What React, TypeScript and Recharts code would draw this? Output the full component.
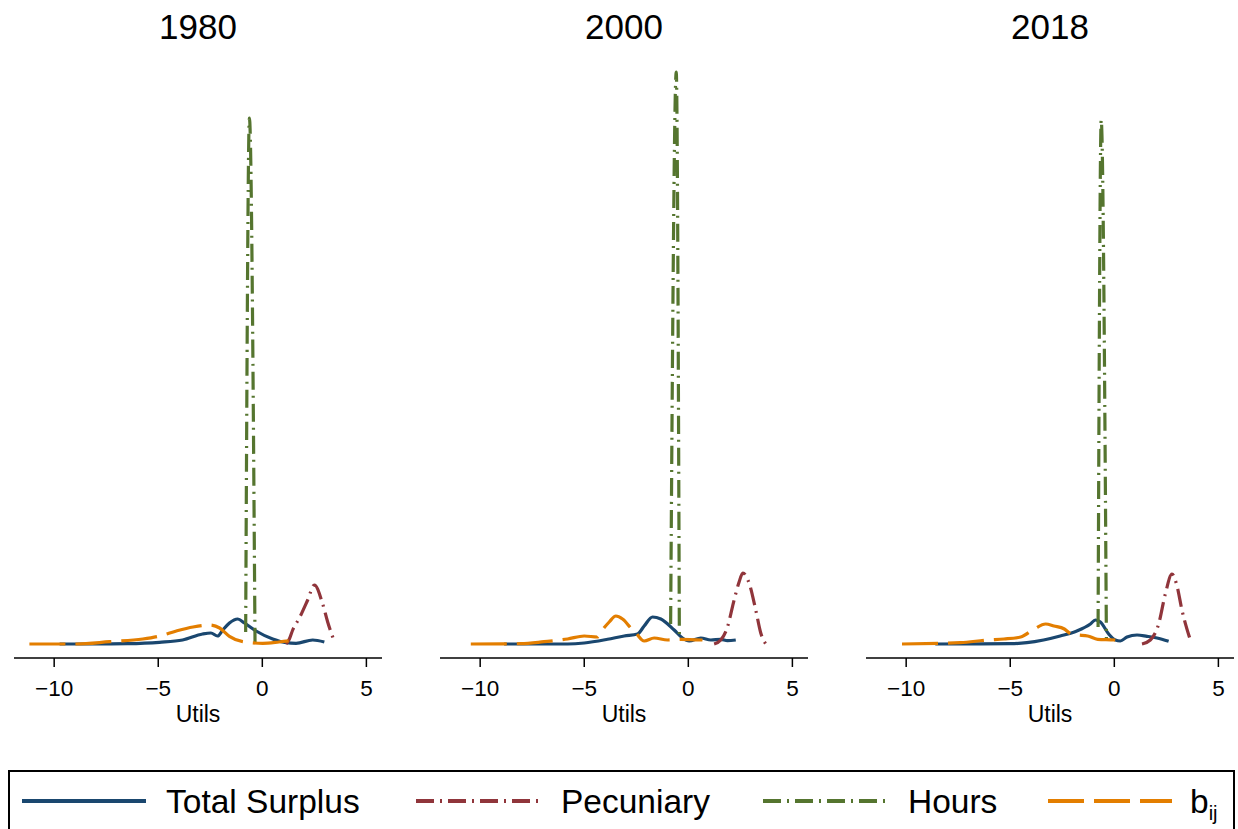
import { Line, LineChart, XAxis, YAxis } from "recharts";

type Pt = [number, number];

const years = ["1980", "2000", "2018"];
const xTicks = [-10, -5, 0, 5];

// kernel densities (x = utils, y = density)
const surplus1980: Pt[] = [
  [-9.74, 0], [-8, 0], [-6.5, 0.003], [-4.94, 0.017], [-3.83, 0.04], [-2.87, 0.1], [-2.47, 0.11],
  [-2.15, 0.08], [-1.9, 0.14], [-1.58, 0.21], [-1.18, 0.25], [-0.86, 0.21], [-0.3, 0.13], [0.5, 0.05],
  [1.14, 0.013], [1.62, 0.007], [2.42, 0.04], [2.98, 0.02]
];
const pecuniary1980: Pt[] = [
  [1.14, 0], [1.3, 0.05], [1.46, 0.14], [1.78, 0.26], [2.18, 0.44], [2.5, 0.59], [2.9, 0.4], [3.14, 0.22], [3.45, 0.03]
];
const hours1980: Pt[] = [[-0.8, 0.12], [-0.62, 5.26], [-0.35, 0]];
const bij1980: Pt[] = [
  [-11.19, 0], [-8.94, 0], [-7.34, 0.023], [-5.74, 0.05], [-4.94, 0.08], [-4.13, 0.13], [-3.33, 0.17],
  [-2.53, 0.19], [-2.05, 0.16], [-1.58, 0.077], [-0.94, 0.023], [0.02, 0.007], [0.8, 0.02], [1.62, 0.04]
];

const surplus2000: Pt[] = [
  [-8.85, 0], [-5.8, 0], [-5.0, 0.01], [-3.88, 0.047], [-3.08, 0.08], [-2.44, 0.1], [-2.12, 0.18],
  [-1.72, 0.27], [-1.32, 0.25], [-0.68, 0.14], [-0.28, 0.06], [0.04, 0.03], [0.6, 0.06], [1.08, 0.04],
  [1.56, 0.047], [1.88, 0.033], [2.28, 0.04]
];
const pecuniary2000: Pt[] = [
  [1.24, 0], [1.56, 0.04], [1.88, 0.17], [2.2, 0.44], [2.44, 0.62], [2.62, 0.71], [2.92, 0.61],
  [3.24, 0.34], [3.48, 0.11], [3.72, 0]
];
const hours2000: Pt[] = [[-0.85, 0.2], [-0.58, 5.72], [-0.43, 0.04]];
const bij2000: Pt[] = [
  [-10.45, 0], [-8.05, 0.003], [-6.93, 0.023], [-5.8, 0.05], [-5.0, 0.08], [-4.37, 0.07], [-4.2, 0.12],
  [-3.8, 0.22], [-3.48, 0.28], [-3.16, 0.25], [-2.76, 0.16], [-2.52, 0.11], [-2.12, 0.03], [-1.64, 0.06],
  [-1.0, 0.04], [-0.36, 0.047], [0.68, 0.04]
];

const surplus2018: Pt[] = [
  [-8.6, 0], [-5.0, 0.003], [-4.2, 0.013], [-3.4, 0.04], [-2.6, 0.08], [-1.8, 0.13], [-1.15, 0.2],
  [-0.91, 0.24], [-0.67, 0.22], [-0.27, 0.1], [0.05, 0.04], [0.29, 0.03], [0.61, 0.07], [1.09, 0.09],
  [1.57, 0.077], [2.05, 0.06], [2.61, 0.027]
];
const pecuniary2018: Pt[] = [
  [1.33, 0], [1.73, 0.04], [2.13, 0.2], [2.45, 0.5], [2.77, 0.7], [3.0, 0.59], [3.25, 0.34], [3.65, 0.04]
];
const hours2018: Pt[] = [[-0.78, 0.17], [-0.63, 5.24], [-0.38, 0.05]];
const bij2018: Pt[] = [
  [-10.2, 0], [-7.4, 0.013], [-6.1, 0.04], [-5.3, 0.05], [-4.5, 0.07], [-3.85, 0.15], [-3.3, 0.2],
  [-2.9, 0.18], [-2.4, 0.15], [-2.08, 0.1], [-1.76, 0.09], [-1.28, 0.08], [-0.8, 0.047], [0.0, 0.04],
  [0.29, 0.03]
];

const panels = [
  { surplus: surplus1980, pecuniary: pecuniary1980, hours: hours1980, bij: bij1980 },
  { surplus: surplus2000, pecuniary: pecuniary2000, hours: hours2000, bij: bij2000 },
  { surplus: surplus2018, pecuniary: pecuniary2018, hours: hours2018, bij: bij2018 }
];

const series = [
  { key: "surplus", name: "Total Surplus", stroke: "#1a476f", dash: undefined },
  { key: "pecuniary", name: "Pecuniary", stroke: "#90353b", dash: "18 6 2 6" },
  { key: "hours", name: "Hours", stroke: "#55752f", dash: "18 6 2 6" },
  { key: "bij", name: "b", stroke: "#e37e00", dash: "36 10" }
] as const;

const FONT = "'Liberation Sans', Arial, Helvetica, sans-serif";
const PANEL_W = 426;
const fmt = (v: number) => (v < 0 ? `\u2212${Math.abs(v)}` : `${v}`);
const toRows = (pts: Pt[]) => pts.map(([x, y]) => ({ x, y }));

function Panel({ index }: { index: number }) {
  const data = panels[index];
  return (
    <div style={{ position: "absolute", left: index * PANEL_W, top: 0, width: PANEL_W, height: 740 }}>
      <div
        style={{
          position: "absolute",
          left: 14,
          width: 368,
          top: 9,
          textAlign: "center",
          fontFamily: FONT,
          fontSize: 35,
          lineHeight: "35px"
        }}
      >
        {years[index]}
      </div>
      <LineChart width={PANEL_W} height={740} margin={{ top: 52, right: 44, bottom: 18, left: 14 }}>
        <XAxis
          type="number"
          dataKey="x"
          domain={[-11.93, 5.75]}
          ticks={xTicks}
          allowDataOverflow
          height={64}
          tickSize={9}
          tickMargin={13}
          tickFormatter={fmt}
          axisLine={{ stroke: "#000", strokeWidth: 1.5 }}
          tickLine={{ stroke: "#000", strokeWidth: 1.5 }}
          tick={{ fill: "#000", fontSize: 22.5, fontFamily: FONT }}
          label={{ value: "Utils", position: "insideBottom", offset: 0, fill: "#000", fontSize: 23, fontFamily: FONT }}
        />
        <YAxis
          type="number"
          domain={[-0.14, 5.92]}
          allowDataOverflow
          width={0}
          tick={false}
          tickLine={false}
          axisLine={{ stroke: "#000", strokeWidth: 1.5 }}
        />
        {series.map((s) => (
          <Line
            key={s.key}
            data={toRows(data[s.key])}
            dataKey="y"
            type="monotone"
            stroke={s.stroke}
            strokeWidth={3.2}
            strokeDasharray={s.dash}
            dot={false}
            activeDot={false}
            isAnimationActive={false}
          />
        ))}
      </LineChart>
    </div>
  );
}

const legendItems = [
  { lineX: 22, textX: 166 },
  { lineX: 416, textX: 561 },
  { lineX: 763, textX: 908 },
  { lineX: 1048, textX: 1190 }
];

function LegendBox() {
  return (
    <svg style={{ position: "absolute", left: 0, top: 760 }} width={1238} height={69}>
      <rect x={9} y={11} width={1225} height={70} fill="#fff" stroke="#000" strokeWidth={2} />
      {series.map((s, i) => (
        <g key={s.key}>
          <line
            x1={legendItems[i].lineX}
            x2={legendItems[i].lineX + 124}
            y1={41}
            y2={41}
            stroke={s.stroke}
            strokeWidth={4}
            strokeDasharray={s.dash}
          />
          <text x={legendItems[i].textX} y={53} fontFamily={FONT} fontSize={33.5} fill="#000">
            {s.name}
            {s.key === "bij" ? (
              <tspan fontSize={20} dy={7}>
                ij
              </tspan>
            ) : null}
          </text>
        </g>
      ))}
    </svg>
  );
}

export default function App() {
  return (
    <div style={{ position: "absolute", left: 0, top: 0, width: 1238, height: 829, background: "#fff", overflow: "hidden" }}>
      {[0, 1, 2].map((i) => (
        <Panel key={i} index={i} />
      ))}
      <LegendBox />
    </div>
  );
}
